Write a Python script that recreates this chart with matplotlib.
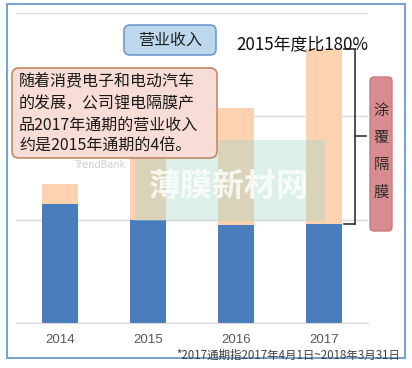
import matplotlib.pyplot as plt
from matplotlib.patches import Rectangle, FancyBboxPatch
import numpy as np

plt.rcParams['font.family'] = ['Noto Sans CJK SC', 'DejaVu Sans']

# data (gridline step = 1)
years = ['2014', '2015', '2016', '2017']
base_rev = [1.15, 1.00, 0.95, 0.96]     # 基膜部分 (blue)
coat_rev = [0.20, 0.60, 1.13, 1.69]     # 涂覆隔膜部分 (orange)

note_lines = ['随着消费电子和电动汽车',
              '的发展，公司锂电隔膜产',
              '品2017年通期的营业收入',
              '约是2015年通期的4倍。']
title_txt = '营业收入'
ratio_txt = '2015年度比180%'
side_txt = '涂覆隔膜'
foot_txt = '*2017通期指2017年4月1日~2018年3月31日'

W, H = 412, 368
fig = plt.figure(figsize=(W / 100, H / 100), dpi=100)

ax = fig.add_axes([16 / W, 1 - 323 / H, (368 - 16) / W, (323 - 13) / H])
x = np.arange(len(years))
bw = 0.4
ax.bar(x, base_rev, width=bw, color='#4a7dbc', zorder=2)
ax.bar(x, coat_rev, bottom=base_rev, width=bw, color='#fbd3b0', zorder=2)
ax.set_xlim(-0.5, 3.5)
ax.set_ylim(0, 3)
ax.set_yticks([0, 1, 2, 3])
ax.yaxis.grid(True, color='#d9d9d9', lw=1)
ax.set_axisbelow(True)
ax.tick_params(axis='y', left=False, labelleft=False)
ax.set_xticks(x, years)
ax.tick_params(axis='x', length=0, pad=8, labelsize=9.5, labelcolor='#595959')
for lab in ax.get_xticklabels():
    lab.set_fontfamily('Liberation Sans')
for s in ['left', 'right', 'top']:
    ax.spines[s].set_visible(False)
ax.spines['bottom'].set_color('#d9d9d9')
ax.patch.set_alpha(0)

# bracket next to the 2017 coating part
top = base_rev[3] + coat_rev[3]
bot = base_rev[3]
xv = 3.35
kw = dict(color='#333333', lw=1.2, clip_on=False, zorder=3)
ax.plot([xv, xv], [bot, top], **kw)
ax.plot([3.23, xv], [top, top], **kw)
ax.plot([3.23, xv], [bot, bot], **kw)
ax.plot([xv, 3.48], [(top + bot) / 2] * 2, **kw)

# overlay in pixel coords for the decorations
ov = fig.add_axes([0, 0, 1, 1])
ov.set_xlim(0, W)
ov.set_ylim(H, 0)
ov.axis('off')

ov.add_patch(Rectangle((7, 4), 398, 354, fill=False, ec='#7aa4cc', lw=1.5))

# watermark
ov.add_patch(Rectangle((135, 140), 190, 81, fc='#a8d8c8', ec='none', alpha=0.4))
ov.text(229, 187, '薄膜新材网', fontsize=23, fontweight='bold', color='white',
        alpha=0.8, ha='center', va='center')
ov.text(100, 165, 'TrendBank', fontsize=7, color='#d0d0d0', ha='center',
        va='center', family='DejaVu Sans')

ov.add_patch(FancyBboxPatch((124, 25), 92, 30, boxstyle='round,pad=0,rounding_size=6',
                            fc='#bdd7ee', ec='#6f9bc8', lw=1.2))
ov.text(170, 40.5, title_txt, fontsize=11.5, ha='center', va='center', color='#1f1f1f')

ov.text(236, 45, ratio_txt, fontsize=12.2, ha='left', va='center', color='#111111')

ov.add_patch(FancyBboxPatch((12, 68), 205, 90, boxstyle='round,pad=0,rounding_size=7',
                            fc='#f8dcd6', ec='#c08a68', lw=1.2))
for i, line in enumerate(note_lines):
    ov.text(19, 82 + i * 21.5, line, fontsize=11.5, ha='left', va='center', color='#1a1a1a')

ov.add_patch(FancyBboxPatch((370, 77), 22, 154, boxstyle='round,pad=0,rounding_size=4',
                            fc='#d98c8f', ec='#c97a7e', lw=1))
for i, ch in enumerate(side_txt):
    ov.text(381, 110 + i * 27.3, ch, fontsize=11, ha='center', va='center', color='#2a2a2a')

ov.text(400, 355, foot_txt, fontsize=8.3, ha='right', va='center', color='#404040')

fig.savefig('out.png', dpi=100)
